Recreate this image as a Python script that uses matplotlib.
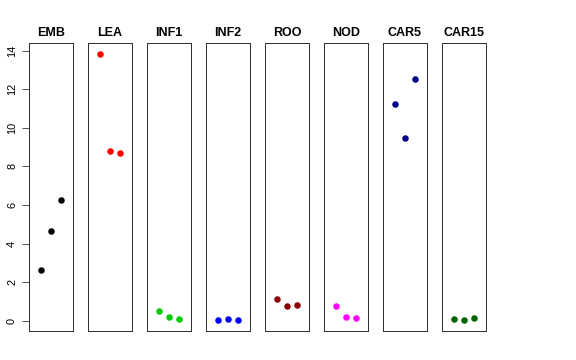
import matplotlib
matplotlib.use('Agg')
import matplotlib.pyplot as plt

plt.rcParams['font.family'] = ['Liberation Sans', 'DejaVu Sans']

# Datos por panel
groups = ['EMB', 'LEA', 'INF1', 'INF2', 'ROO', 'NOD', 'CAR5', 'CAR15']
colors = ['black', 'red', '#00CD00', 'blue', '#8B0000', 'magenta', '#00008B', '#006400']
emb = [2.64, 4.67, 6.27]
lea = [13.84, 8.78, 8.68]
inf1 = [0.49, 0.19, 0.10]
inf2 = [0.02, 0.09, 0.02]
roo = [1.12, 0.75, 0.80]
nod = [0.75, 0.21, 0.16]
car5 = [11.22, 9.46, 12.55]
car15 = [0.09, 0.02, 0.14]
values = [emb, lea, inf1, inf2, roo, nod, car5, car15]
x = [1, 2, 3]

fig = plt.figure(figsize=(8, 5), dpi=72)
W, H = 576, 360

ymin = min(min(v) for v in values)
ymax = max(max(v) for v in values)
pad = 0.04 * (ymax - ymin)

for i, (name, col, vals) in enumerate(zip(groups, colors, values)):
    left = 29 + 59 * i
    ax = fig.add_axes([left / W, 1 - 331 / H, 44 / W, 288 / H])
    ax.plot(x, vals, 'o', color=col, markersize=6.5, markeredgewidth=0)
    ax.set_xlim(-0.16, 4.16)
    ax.set_ylim(ymin - pad, ymax + pad)
    ax.set_xticks([])
    ax.set_title(name, fontsize=12.5, fontweight='bold', pad=7)
    for s in ax.spines.values():
        s.set_linewidth(1)
        s.set_color('#333333')
    if i == 0:
        ax.set_yticks(range(0, 15, 2))
        ax.tick_params(axis='y', length=7, width=0.8, labelsize=11, pad=5,
                       color='#333333')
        for lab in ax.get_yticklabels():
            lab.set_rotation(90)
            lab.set_va('center')
    else:
        ax.set_yticks([])

fig.savefig('out.png', dpi=72)
